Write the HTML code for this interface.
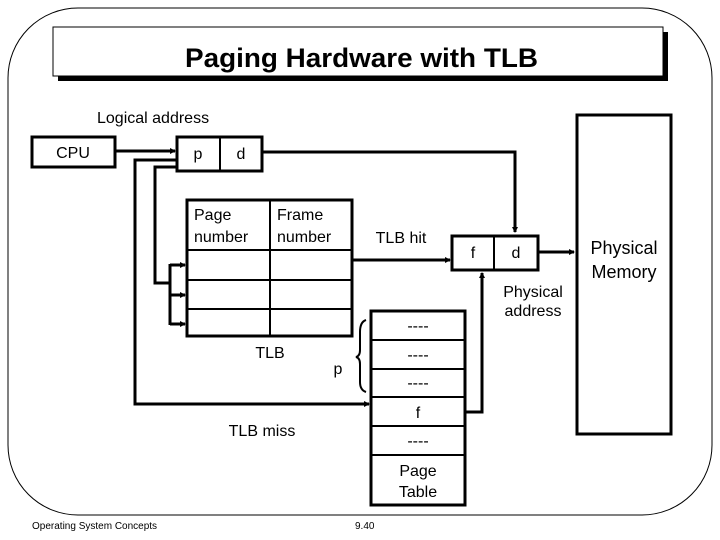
<!DOCTYPE html>
<html><head><style>
body{margin:0;background:#fff;}
svg{display:block;font-family:"Liberation Sans",Arial,sans-serif;}
</style></head><body>
<svg width="720" height="540" viewBox="0 0 720 540" xmlns="http://www.w3.org/2000/svg">
<defs><marker id="a" markerWidth="6" markerHeight="6" refX="5" refY="3" orient="auto" markerUnits="userSpaceOnUse"><path d="M0,0 L6,3 L0,6z" fill="#000"/></marker></defs>
<rect x="8" y="8" width="704" height="507" rx="70" ry="70" fill="none" stroke="#000" stroke-width="1"/>
<rect x="58" y="32" width="610" height="49" fill="#000"/>
<rect x="53" y="27" width="610" height="49" fill="#fff" stroke="#000" stroke-width="1"/>
<text x="185" y="67" font-size="27" font-weight="bold" textLength="353" lengthAdjust="spacingAndGlyphs">Paging Hardware with TLB</text>
<g font-size="16">
<text x="97" y="123">Logical address</text>
<rect x="32" y="137" width="83" height="30" fill="none" stroke="#000" stroke-width="3"/>
<text x="73" y="158" text-anchor="middle">CPU</text>
<rect x="177" y="137" width="85" height="34" fill="none" stroke="#000" stroke-width="3"/>
<line x1="220" y1="137" x2="220" y2="171" stroke="#000" stroke-width="2"/>
<text x="198" y="159" text-anchor="middle">p</text><text x="241" y="159" text-anchor="middle">d</text>
<g stroke="#000" stroke-width="3" fill="none">
<polyline points="115,151 175,151" marker-end="url(#a)"/>
<polyline points="262,152 515,152 515,232" marker-end="url(#a)"/>
<polyline points="177,160 135,160 135,404 369,404" marker-end="url(#a)"/>
<polyline points="177,167 155,167 155,283 170,283"/>
<line x1="170" y1="264" x2="170" y2="325"/>
<line x1="170" y1="265" x2="185" y2="265" marker-end="url(#a)"/>
<line x1="170" y1="295" x2="185" y2="295" marker-end="url(#a)"/>
<line x1="170" y1="324" x2="185" y2="324" marker-end="url(#a)"/>
<rect x="187" y="200" width="165" height="136"/>
<polyline points="352,260 450,260" marker-end="url(#a)"/>
<rect x="452" y="236" width="86" height="34"/>
<polyline points="538,252 574,252" marker-end="url(#a)"/>
<rect x="577" y="115" width="94" height="319"/>
<rect x="371" y="311" width="94" height="194"/>
<polyline points="465,412 482,412 482,273" marker-end="url(#a)"/>
<path d="M366,320 Q360,322 360,332 L360,350 Q360,356 356,357 Q360,358 360,364 L360,382 Q360,390 366,392" stroke-width="2"/>
</g>
<g stroke="#000" stroke-width="2">
<line x1="270" y1="200" x2="270" y2="336"/>
<line x1="187" y1="250" x2="352" y2="250"/>
<line x1="187" y1="280" x2="352" y2="280"/>
<line x1="187" y1="309" x2="352" y2="309"/>
<line x1="494" y1="236" x2="494" y2="270"/>
<line x1="371" y1="340" x2="465" y2="340"/>
<line x1="371" y1="369" x2="465" y2="369"/>
<line x1="371" y1="397" x2="465" y2="397"/>
<line x1="371" y1="426" x2="465" y2="426"/>
<line x1="371" y1="455" x2="465" y2="455"/>
</g>
<text x="194" y="220">Page</text><text x="194" y="242">number</text>
<text x="277" y="220">Frame</text><text x="277" y="242">number</text>
<text x="401" y="243" text-anchor="middle">TLB hit</text>
<text x="473" y="258" text-anchor="middle">f</text><text x="516" y="258" text-anchor="middle">d</text>
<text x="533" y="297" text-anchor="middle">Physical</text><text x="533" y="316" text-anchor="middle">address</text>
<text x="270" y="358" text-anchor="middle">TLB</text>
<text x="338" y="374" text-anchor="middle">p</text>
<text x="262" y="436" text-anchor="middle">TLB miss</text>
<g text-anchor="middle">
<text x="418" y="331">----</text><text x="418" y="360">----</text><text x="418" y="388">----</text>
<text x="418" y="418">f</text><text x="418" y="446">----</text>
<text x="418" y="476">Page</text><text x="418" y="497">Table</text>
</g>
<text x="624" y="254" font-size="18" text-anchor="middle">Physical</text>
<text x="624" y="278" font-size="18" text-anchor="middle">Memory</text>
</g>
<text x="32" y="529" font-size="10">Operating System Concepts</text>
<text x="355" y="529" font-size="10">9.40</text>
</svg>
</body></html>
